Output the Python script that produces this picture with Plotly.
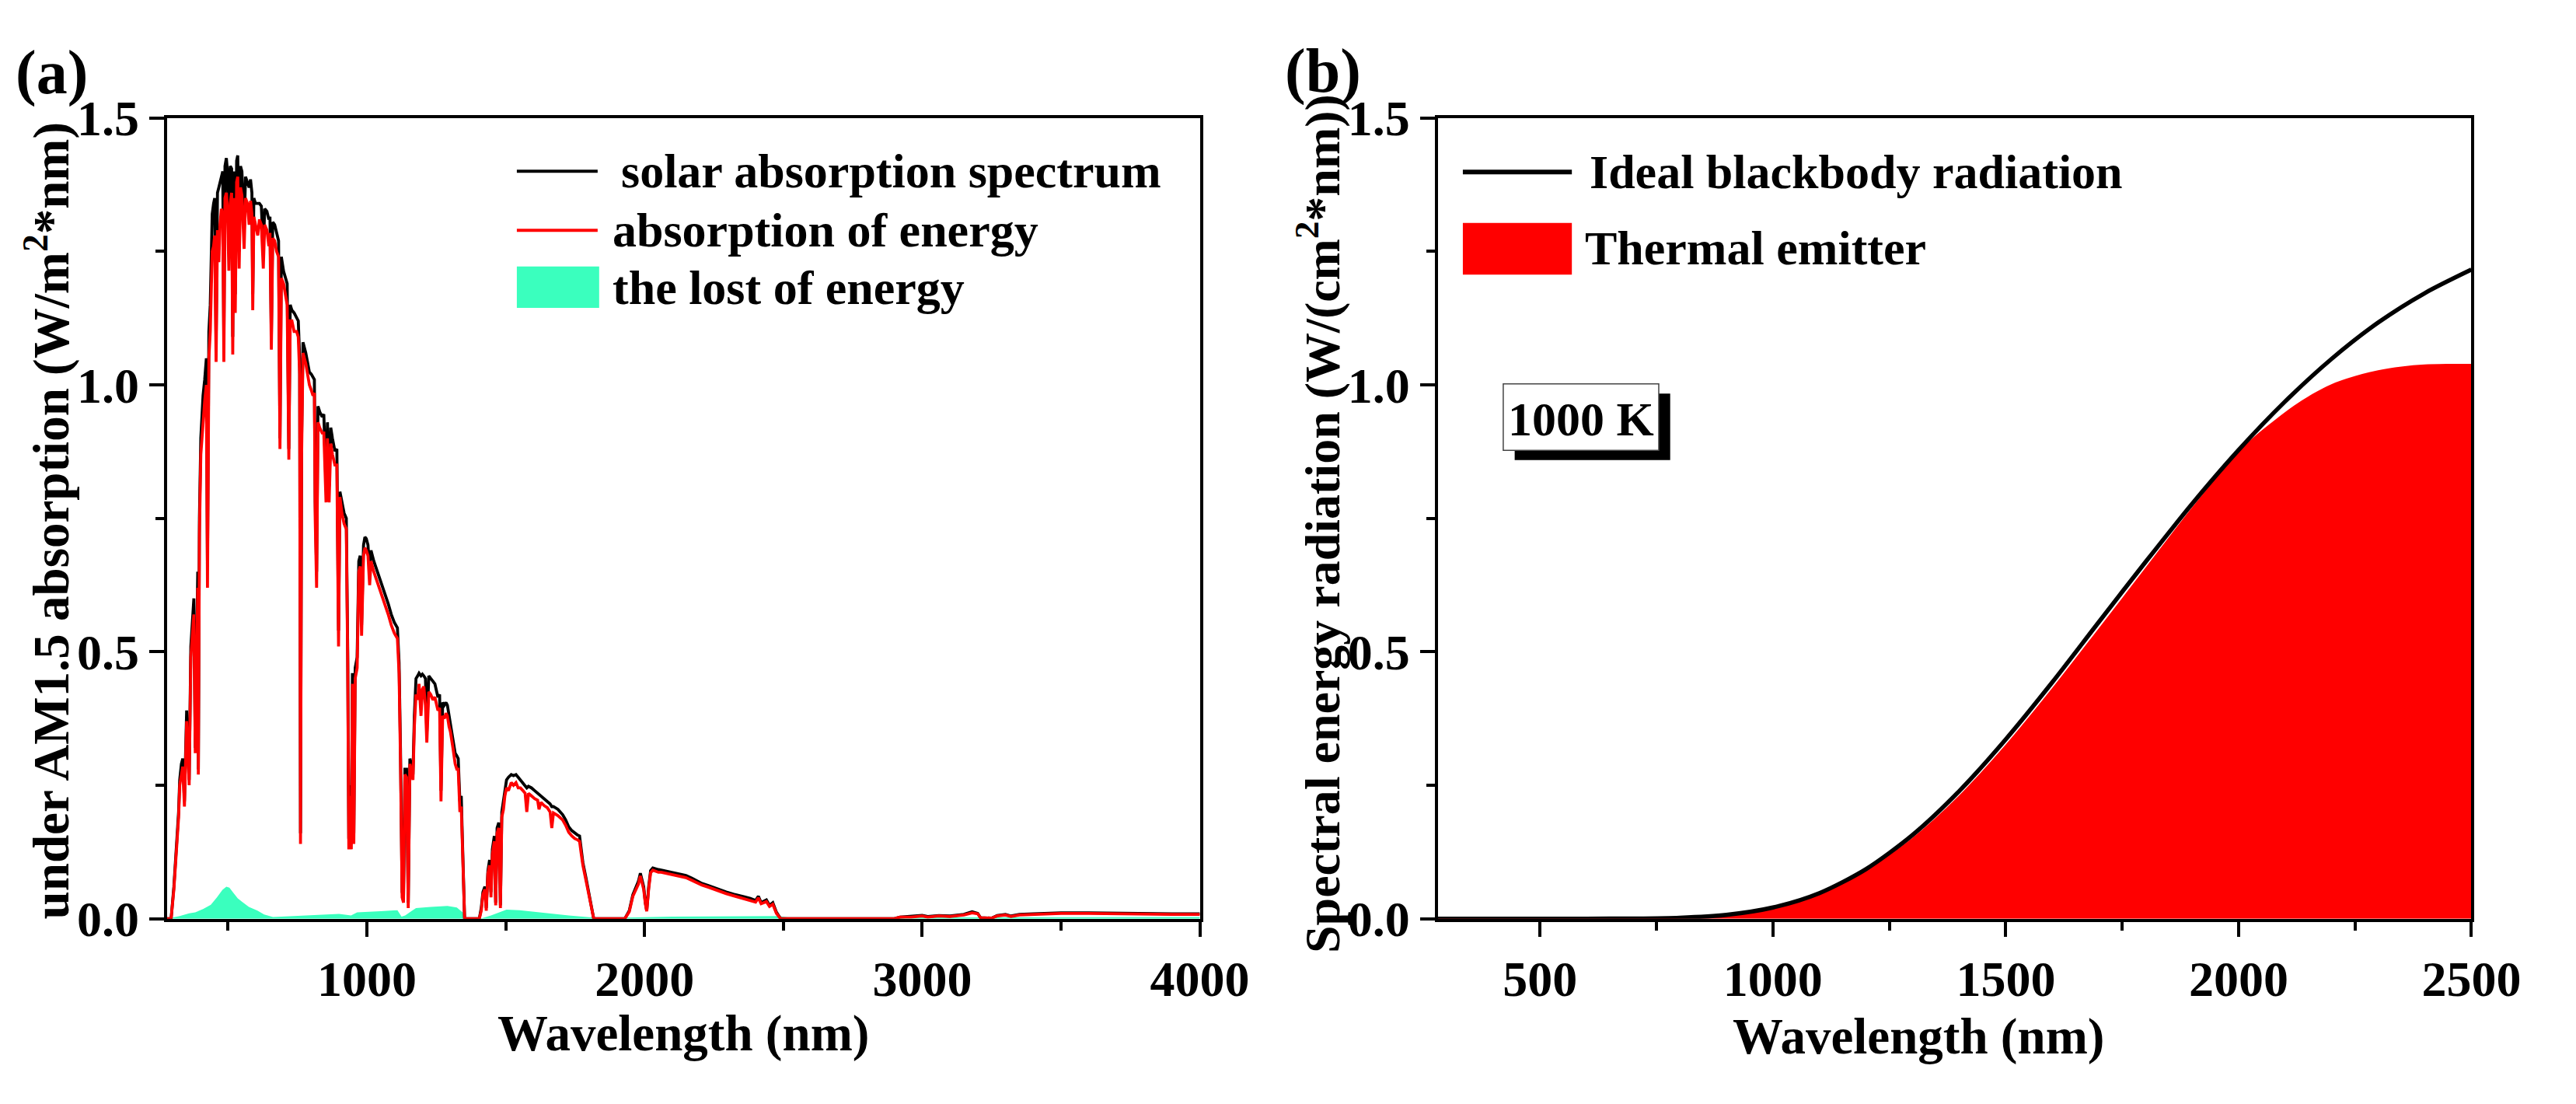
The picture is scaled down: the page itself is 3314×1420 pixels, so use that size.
import plotly.graph_objects as go
from plotly.subplots import make_subplots

# ---------------- Panel (a) data: AM1.5 solar spectrum ----------------
wl_a = [280, 295, 305, 315, 322, 326, 332, 337, 343, 351, 356, 360, 366, 372, 377, 382, 388, 391, 393, 397,
        402, 410, 416, 422, 426, 431, 436, 443, 448, 452, 457, 462, 467, 471, 476, 481, 485, 489, 494, 498,
        503, 508, 513, 517, 521, 526, 531, 535, 540, 545, 550, 558, 563, 570, 576, 581, 586, 589, 593, 599,
        607, 613, 620, 627, 632, 640, 647, 651, 656, 661, 668, 675, 682, 687, 692, 700, 706, 713, 719, 724,
        730, 738, 747, 753, 758, 761, 765, 770, 780, 793, 800, 806, 811, 814, 819, 824, 830, 839, 845, 853,
        858, 864, 870, 876, 885, 892, 898, 903, 910, 918, 926, 931, 935, 940, 944, 948, 953, 958, 965, 971,
        976, 981, 988, 993, 998, 1004, 1010, 1015, 1025, 1035, 1043, 1055, 1065, 1077, 1088, 1099, 1110, 1116, 1121, 1127,
        1132, 1137, 1143, 1149, 1155, 1161, 1166, 1171, 1177, 1183, 1188, 1195, 1200, 1205, 1211, 1216, 1223, 1230, 1238, 1245,
        1256, 1262, 1267, 1273, 1279, 1285, 1290, 1296, 1301, 1310, 1318, 1324, 1329, 1335, 1340, 1344, 1348, 1352, 1405, 1412,
        1418, 1425, 1430, 1436, 1442, 1447, 1452, 1459, 1464, 1469, 1475, 1481, 1486, 1492, 1497, 1503, 1510, 1520, 1528, 1537,
        1545, 1553, 1562, 1570, 1576, 1582, 1593, 1604, 1615, 1620, 1627, 1638, 1650, 1660, 1666, 1672, 1688, 1705, 1716, 1727,
        1738, 1749, 1758, 1766, 1772, 1778, 1789, 1800, 1810, 1817, 1929, 1945, 1958, 1970, 1978, 1985, 1992, 1997, 2003, 2008,
        2015, 2022, 2030, 2040, 2050, 2060, 2076, 2090, 2110, 2130, 2149, 2170, 2190, 2207, 2230, 2250, 2270, 2294, 2320, 2340,
        2360, 2381, 2400, 2410, 2420, 2439, 2450, 2462, 2475, 2490, 2900, 2920, 2960, 3000, 3020, 3060, 3100, 3150, 3180, 3200,
        3210, 3250, 3270, 3300, 3320, 3350, 3400, 3450, 3500, 3600, 3700, 3800, 3900, 4000]

solar = [0.000, 0.000, 0.060, 0.140, 0.200, 0.260, 0.290, 0.300, 0.220, 0.390, 0.330, 0.260, 0.510, 0.560, 0.600, 0.320, 0.620, 0.650, 0.280, 0.750,
         0.900, 0.980, 1.010, 1.050, 0.660, 1.100, 1.150, 1.320, 1.340, 1.350, 1.080, 1.360, 1.370, 1.380, 1.390, 1.400, 1.080, 1.410, 1.425, 1.400,
         1.250, 1.410, 1.405, 1.090, 1.400, 1.170, 1.420, 1.430, 1.250, 1.410, 1.400, 1.290, 1.390, 1.380, 1.370, 1.385, 1.360, 1.170, 1.350, 1.340,
         1.340, 1.340, 1.335, 1.250, 1.330, 1.325, 1.310, 1.315, 1.090, 1.305, 1.300, 1.285, 1.270, 0.900, 1.240, 1.213, 1.200, 1.190, 0.880, 1.150,
         1.140, 1.135, 1.126, 1.120, 1.050, 0.160, 0.900, 1.080, 1.060, 1.024, 1.020, 1.015, 1.010, 0.780, 0.650, 0.960, 0.950, 0.940, 0.945, 0.810,
         0.930, 0.810, 0.920, 0.900, 0.876, 0.880, 0.540, 0.800, 0.780, 0.760, 0.750, 0.500, 0.150, 0.250, 0.140, 0.460, 0.160, 0.470, 0.490, 0.670,
         0.680, 0.550, 0.700, 0.715, 0.712, 0.700, 0.650, 0.690, 0.670, 0.655, 0.640, 0.625, 0.610, 0.590, 0.570, 0.555, 0.545, 0.480, 0.320, 0.050,
         0.040, 0.280, 0.280, 0.030, 0.300, 0.280, 0.270, 0.380, 0.450, 0.455, 0.460, 0.455, 0.458, 0.455, 0.450, 0.350, 0.455, 0.450, 0.445, 0.440,
         0.415, 0.420, 0.240, 0.405, 0.400, 0.405, 0.400, 0.380, 0.370, 0.340, 0.310, 0.305, 0.300, 0.220, 0.230, 0.150, 0.060, 0.000, 0.000, 0.020,
         0.050, 0.060, 0.020, 0.090, 0.110, 0.050, 0.130, 0.155, 0.030, 0.170, 0.180, 0.025, 0.200, 0.220, 0.245, 0.260, 0.265, 0.270, 0.268, 0.270,
         0.265, 0.260, 0.255, 0.250, 0.245, 0.248, 0.245, 0.240, 0.235, 0.233, 0.230, 0.225, 0.220, 0.215, 0.210, 0.210, 0.205, 0.195, 0.185, 0.172,
         0.165, 0.160, 0.157, 0.155, 0.130, 0.105, 0.077, 0.045, 0.015, 0.000, 0.000, 0.015, 0.045, 0.062, 0.070, 0.085, 0.070, 0.060, 0.030, 0.015,
         0.060, 0.090, 0.095, 0.093, 0.092, 0.091, 0.089, 0.087, 0.085, 0.083, 0.081, 0.076, 0.071, 0.066, 0.062, 0.058, 0.055, 0.050, 0.046, 0.044,
         0.041, 0.038, 0.034, 0.042, 0.030, 0.035, 0.025, 0.030, 0.012, 0.000, 0.000, 0.003, 0.004, 0.006, 0.004, 0.006, 0.005, 0.008, 0.013, 0.010,
         0.002, 0.001, 0.006, 0.008, 0.005, 0.008, 0.009, 0.010, 0.011, 0.011, 0.010, 0.009, 0.009, 0.009]

absorbed = [0.000, 0.000, 0.055, 0.130, 0.190, 0.250, 0.275, 0.285, 0.210, 0.370, 0.310, 0.250, 0.490, 0.530, 0.570, 0.310, 0.590, 0.620, 0.270, 0.720,
            0.870, 0.940, 0.970, 1.000, 0.620, 1.050, 1.100, 1.250, 1.260, 1.280, 1.043, 1.290, 1.230, 1.300, 1.330, 1.320, 1.043, 1.350, 1.360, 1.330,
            1.214, 1.340, 1.360, 1.057, 1.350, 1.135, 1.380, 1.390, 1.218, 1.370, 1.355, 1.255, 1.350, 1.340, 1.300, 1.345, 1.320, 1.140, 1.315, 1.300,
            1.280, 1.310, 1.300, 1.218, 1.300, 1.290, 1.260, 1.285, 1.066, 1.275, 1.270, 1.250, 1.240, 0.880, 1.200, 1.190, 1.170, 1.150, 0.860, 1.120,
            1.120, 1.100, 1.100, 1.090, 1.020, 0.140, 0.870, 1.060, 1.040, 1.000, 0.990, 0.980, 0.985, 0.750, 0.620, 0.930, 0.920, 0.910, 0.910, 0.780,
            0.900, 0.780, 0.890, 0.870, 0.850, 0.850, 0.510, 0.790, 0.760, 0.740, 0.730, 0.480, 0.130, 0.230, 0.130, 0.440, 0.140, 0.450, 0.470, 0.650,
            0.660, 0.530, 0.680, 0.695, 0.690, 0.680, 0.625, 0.670, 0.650, 0.635, 0.620, 0.605, 0.590, 0.570, 0.550, 0.535, 0.525, 0.460, 0.300, 0.040,
            0.030, 0.270, 0.265, 0.020, 0.290, 0.270, 0.260, 0.360, 0.420, 0.410, 0.440, 0.380, 0.430, 0.435, 0.400, 0.330, 0.425, 0.420, 0.410, 0.415,
            0.390, 0.395, 0.220, 0.380, 0.375, 0.385, 0.380, 0.360, 0.350, 0.320, 0.290, 0.280, 0.280, 0.200, 0.210, 0.140, 0.050, 0.000, 0.000, 0.015,
            0.045, 0.055, 0.015, 0.085, 0.100, 0.040, 0.120, 0.145, 0.025, 0.160, 0.170, 0.020, 0.190, 0.205, 0.230, 0.245, 0.240, 0.255, 0.250, 0.255,
            0.245, 0.245, 0.240, 0.235, 0.200, 0.235, 0.230, 0.225, 0.222, 0.205, 0.218, 0.212, 0.208, 0.200, 0.170, 0.198, 0.193, 0.185, 0.175, 0.162,
            0.155, 0.150, 0.148, 0.145, 0.122, 0.100, 0.072, 0.042, 0.013, 0.000, 0.000, 0.013, 0.042, 0.058, 0.065, 0.080, 0.066, 0.055, 0.028, 0.014,
            0.056, 0.086, 0.091, 0.089, 0.087, 0.087, 0.085, 0.083, 0.081, 0.079, 0.077, 0.072, 0.067, 0.063, 0.059, 0.055, 0.051, 0.047, 0.043, 0.040,
            0.038, 0.035, 0.031, 0.039, 0.028, 0.032, 0.023, 0.027, 0.010, 0.000, 0.000, 0.003, 0.003, 0.005, 0.003, 0.005, 0.004, 0.007, 0.011, 0.009,
            0.002, 0.001, 0.005, 0.007, 0.004, 0.007, 0.008, 0.009, 0.010, 0.010, 0.009, 0.008, 0.008, 0.008]

wl_lost = [280, 300, 326, 360, 382, 410, 438, 460, 480, 494, 505, 520, 535, 550, 575, 606, 630, 662, 700, 760,
           831, 900, 943, 965, 1050, 1110, 1125, 1138, 1160, 1177, 1230, 1290, 1324, 1345, 1352, 1408, 1447, 1480, 1503, 1550,
           1615, 1727, 1817, 1930, 2100, 2300, 2480, 2520, 3000, 4000]
lost = [0.000, 0.002, 0.005, 0.010, 0.012, 0.018, 0.026, 0.040, 0.054, 0.060, 0.058, 0.048, 0.038, 0.032, 0.022, 0.015, 0.008, 0.003, 0.004, 0.006,
        0.008, 0.009, 0.006, 0.012, 0.014, 0.016, 0.004, 0.006, 0.014, 0.020, 0.022, 0.024, 0.021, 0.012, 0.000, 0.000, 0.006, 0.012, 0.017, 0.016,
        0.012, 0.006, 0.002, 0.002, 0.004, 0.005, 0.005, 0.002, 0.002, 0.003]

# ---------------- Panel (b) data: 1000 K blackbody vs thermal emitter ----------------
wl_bb = [280, 400, 500, 600, 700, 800, 900, 1000, 1100, 1200, 1300, 1400, 1500, 1600, 1700, 1800, 1900, 2000,
         2100, 2200, 2300, 2400, 2500]
blackbody = [0.0, 0.0, 0.0, 0.00002, 0.0003, 0.0018, 0.0072, 0.021, 0.048, 0.093, 0.157, 0.239, 0.336, 0.443, 0.556,
             0.668, 0.777, 0.878, 0.969, 1.049, 1.117, 1.172, 1.216]

wl_em = [280, 500, 700, 800, 900, 1000, 1100, 1200, 1300, 1400, 1500, 1600, 1700, 1800, 1900, 2000, 2040, 2080,
         2120, 2160, 2200, 2250, 2300, 2350, 2400, 2450, 2500]
emitter = [0.0, 0.0, 0.0003, 0.0017, 0.0069, 0.020, 0.046, 0.089, 0.150, 0.229, 0.324, 0.430, 0.542, 0.655, 0.768,
           0.873, 0.906, 0.934, 0.960, 0.982, 1.000, 1.015, 1.026, 1.033, 1.037, 1.038, 1.038]

x_ticks_a = [1000, 2000, 3000, 4000]
x_ticks_b = [500, 1000, 1500, 2000, 2500]
y_ticks = [0.0, 0.5, 1.0, 1.5]
y_tick_text = ["0.0", "0.5", "1.0", "1.5"]

# ---------------- figure ----------------
W, H = 3314, 1420
FONT = "Liberation Serif"
TEAL = "#3AFFBE"
RED = "#FF0000"


def px(x):
    return x / W


def py(y):
    return 1 - y / H


fig = make_subplots(rows=1, cols=2)

fig.add_trace(go.Scatter(x=wl_lost, y=lost, mode="lines", fill="tozeroy", fillcolor=TEAL,
                         line=dict(width=0, color=TEAL), showlegend=False), row=1, col=1)
fig.add_trace(go.Scatter(x=wl_a, y=solar, mode="lines", line=dict(color="black", width=3.8),
                         showlegend=False), row=1, col=1)
fig.add_trace(go.Scatter(x=wl_a, y=absorbed, mode="lines", line=dict(color=RED, width=3.8),
                         showlegend=False), row=1, col=1)

fig.add_trace(go.Scatter(x=wl_em, y=emitter, mode="lines", fill="tozeroy", fillcolor=RED,
                         line=dict(color=RED, width=2, shape="spline", smoothing=0.8), showlegend=False), row=1, col=2)
fig.add_trace(go.Scatter(x=wl_bb, y=blackbody, mode="lines",
                         line=dict(color="black", width=5.5, shape="spline", smoothing=0.8),
                         showlegend=False), row=1, col=2)

tickfont = dict(family=FONT, size=64, color="black", weight="bold")
minor_common = dict(ticks="outside", ticklen=11, tickwidth=4, tickcolor="black")
axis_common = dict(showline=True, mirror=True, linecolor="black", linewidth=4, showgrid=False, zeroline=False,
                   ticks="outside", ticklen=19, tickwidth=4, tickcolor="black", tickfont=tickfont)

ydom = [py(1207), py(123)]
fig.update_layout(
    width=W, height=H, autosize=False,
    margin=dict(l=0, r=0, t=0, b=0),
    paper_bgcolor="white", plot_bgcolor="white",
    xaxis=dict(domain=[px(219), px(1574)], range=[280, 4000], tickvals=x_ticks_a,
               minor=dict(dtick=500, tick0=0, **minor_common), **axis_common),
    xaxis2=dict(domain=[px(1886), px(3242)], range=[280, 2500], tickvals=x_ticks_b,
                minor=dict(dtick=250, tick0=0, **minor_common), **axis_common),
    yaxis=dict(domain=ydom, range=[0, 1.5], tickvals=y_ticks, ticktext=y_tick_text,
               minor=dict(dtick=0.25, tick0=0, **minor_common), **axis_common),
    yaxis2=dict(domain=ydom, range=[0, 1.5], tickvals=y_ticks, ticktext=y_tick_text,
                minor=dict(dtick=0.25, tick0=0, **minor_common), **axis_common),
)

shapes = []
annots = []


def text(x, y, s, size, xanchor="center", angle=0):
    annots.append(dict(xref="paper", yref="paper", x=px(x), y=py(y), text=s, showarrow=False,
                       xanchor=xanchor, yanchor="middle", textangle=angle,
                       font=dict(family=FONT, size=size, color="black", weight="bold")))


# panel labels
text(68, 62, "(a)", 80)
text(1736, 60, "(b)", 80)

# axis titles
text(896, 1362, "Wavelength (nm)", 65)
text(2517, 1366, "Wavelength (nm)", 65)
text(62, 668, "under AM1.5 absorption (W/m<sup>2</sup>*nm)", 65, angle=-90)
text(1730, 672, "Spectral energy radiation (W/(cm<sup>2</sup>*nm))", 64, angle=-90)

# legend (a)
shapes.append(dict(type="line", xref="paper", yref="paper", x0=px(678), x1=px(784), y0=py(195), y1=py(195),
                   line=dict(color="black", width=4)))
shapes.append(dict(type="line", xref="paper", yref="paper", x0=px(678), x1=px(784), y0=py(275), y1=py(275),
                   line=dict(color=RED, width=4)))
shapes.append(dict(type="rect", xref="paper", yref="paper", x0=px(678), x1=px(786), y0=py(380), y1=py(324),
                   fillcolor=TEAL, line=dict(width=0)))
text(813, 195, "solar absorption spectrum", 62, xanchor="left")
text(801, 275, "absorption of energy", 62, xanchor="left")
text(801, 353, "the lost of energy", 62, xanchor="left")

# legend (b)
shapes.append(dict(type="line", xref="paper", yref="paper", x0=px(1919), x1=px(2062), y0=py(196), y1=py(196),
                   line=dict(color="black", width=6)))
shapes.append(dict(type="rect", xref="paper", yref="paper", x0=px(1919), x1=px(2062), y0=py(335), y1=py(265),
                   fillcolor=RED, line=dict(width=0)))
text(2083, 196, "Ideal blackbody radiation", 62, xanchor="left")
text(2077, 299, "Thermal emitter", 62, xanchor="left")

# 1000 K box with drop shadow
shapes.append(dict(type="rect", xref="paper", yref="paper", x0=px(1987), x1=px(2191), y0=py(586), y1=py(496),
                   fillcolor="black", line=dict(width=0)))
shapes.append(dict(type="rect", xref="paper", yref="paper", x0=px(1972), x1=px(2176), y0=py(573), y1=py(483),
                   fillcolor="white", line=dict(color="#444444", width=1.5)))
text(2074, 530, "1000 K", 62)

fig.update_layout(shapes=shapes, annotations=annots)

fig.write_html("out.html", config={"displayModeBar": False},
               post_script="document.body.style.margin='0';document.body.style.overflow='hidden';")
